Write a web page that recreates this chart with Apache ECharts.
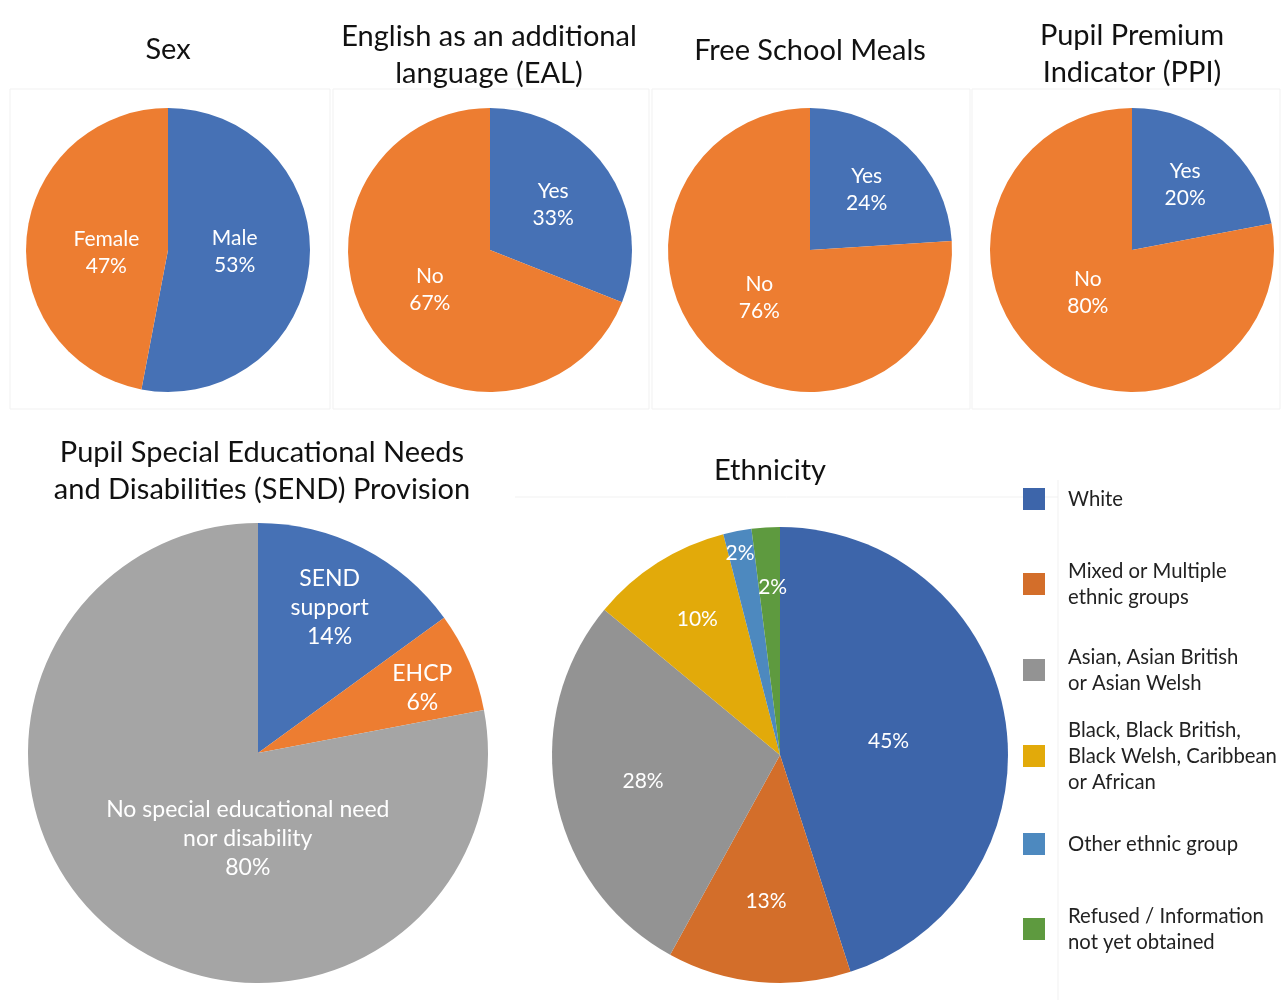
<!DOCTYPE html>
<html>
<head>
<meta charset="utf-8">
<script src="https://cdn.jsdelivr.net/npm/echarts@6/dist/echarts.min.js"></script>
<style>
  html, body { margin: 0; padding: 0; background: #fff; }
  #main { width: 1282px; height: 1002px; }
</style>
</head>
<body>
<div id="main"></div>
<script>
// slice sizes as drawn in the picture, printed percentages as written on it
var sexNames = ['Male', 'Female'];
var sexValues = [53, 47];
var sexPrinted = ['53%', '47%'];

var ealNames = ['Yes', 'No'];
var ealValues = [31, 69];
var ealPrinted = ['33%', '67%'];

var fsmNames = ['Yes', 'No'];
var fsmValues = [24, 76];
var fsmPrinted = ['24%', '76%'];

var ppiNames = ['Yes', 'No'];
var ppiValues = [22, 78];
var ppiPrinted = ['20%', '80%'];

var sendNames = ['SEND\nsupport', 'EHCP', 'No special educational need\nnor disability'];
var sendValues = [15, 7, 78];
var sendPrinted = ['14%', '6%', '80%'];

var ethNames = [
  'White',
  'Mixed or Multiple ethnic groups',
  'Asian, Asian British or Asian Welsh',
  'Black, Black British, Black Welsh, Caribbean or African',
  'Other ethnic group',
  'Refused / Information not yet obtained'
];
var ethLegendText = [
  'White',
  'Mixed or Multiple\nethnic groups',
  'Asian, Asian British\nor Asian Welsh',
  'Black, Black British,\nBlack Welsh, Caribbean\nor African',
  'Other ethnic group',
  'Refused / Information\nnot yet obtained'
];
var ethValues = [45, 13, 28, 10, 2, 2];
var ethPrinted = ['45%', '13%', '28%', '10%', '2%', '2%'];

var FONT = 'Lato, "Open Sans", sans-serif';
var BLUE = '#4671b5', ORANGE = '#ed7d31', GREY = '#a5a5a5';
var ethColors = ['#3d65aa', '#d36e2a', '#939393', '#e2aa0a', '#4d89bf', '#5e9a3f'];

function pieData(names, values, printed, colors, nudge) {
  return names.map(function (n, i) {
    var d = { name: n, value: values[i], printed: printed[i], itemStyle: { color: colors[i] } };
    if (nudge && nudge[i]) d.label = { offset: nudge[i] };
    return d;
  });
}

function withName(p) { return p.name + '\n' + p.data.printed; }

function smallPie(name, cx, names, values, printed, nudge) {
  return {
    name: name,
    type: 'pie',
    center: [cx, 250],
    radius: 142,
    startAngle: 90,
    clockwise: true,
    silent: true,
    itemStyle: { borderWidth: 0 },
    label: {
      position: 'inside',
      color: '#fff',
      fontFamily: FONT,
      fontSize: 21,
      lineHeight: 27,
      formatter: withName
    },
    labelLine: { show: false },
    data: pieData(names, values, printed, [BLUE, ORANGE], nudge)
  };
}

var titles = [
  { text: 'Sex', x: 168, y: 50 },
  { text: 'English as an additional\nlanguage (EAL)', x: 489, y: 55 },
  { text: 'Free School Meals', x: 810, y: 51 },
  { text: 'Pupil Premium\nIndicator (PPI)', x: 1132, y: 54 },
  { text: 'Pupil Special Educational Needs\nand Disabilities (SEND) Provision', x: 262, y: 471 },
  { text: 'Ethnicity', x: 770, y: 471 }
];

// faint panel frames like in the original
var frames = [
  [10, 89, 320, 320], [333, 89, 316, 320], [652, 89, 318, 320], [972, 89, 308, 320]
];

var graphics = frames.map(function (f) {
  return {
    type: 'rect', silent: true, z: -1,
    shape: { x: f[0], y: f[1], width: f[2], height: f[3] },
    style: { fill: 'none', stroke: '#f1f1f1', lineWidth: 1 }
  };
});
graphics.push({ type: 'line', silent: true, shape: { x1: 515, y1: 497, x2: 1058, y2: 497 }, style: { stroke: '#f1f1f1' } });
graphics.push({ type: 'line', silent: true, shape: { x1: 1058, y1: 480, x2: 1058, y2: 1000 }, style: { stroke: '#f1f1f1' } });
titles.forEach(function (t) {
  graphics.push({
    type: 'text', silent: true,
    x: t.x, y: t.y,
    style: {
      text: t.text, fill: '#111', font: '29px ' + FONT,
      align: 'center', verticalAlign: 'middle', lineHeight: 37
    }
  });
});

// one legend per row so the rows sit evenly like the original
var legendCenters = [499, 584, 670, 756, 844, 929];
var legends = ethNames.map(function (n, i) {
  var lines = ethLegendText[i].split('\n').length;
  return {
    orient: 'vertical',
    left: 1023,
    top: legendCenters[i] - lines * 13,
    padding: 0,
    itemWidth: 22,
    itemHeight: 22,
    selectedMode: false,
    icon: 'rect',
    data: [n],
    formatter: function () { return ethLegendText[i]; },
    textStyle: {
      fontFamily: FONT, fontSize: 20.3, color: '#222', lineHeight: 26,
      padding: [0, 0, 0, 18]
    }
  };
});

var option = {
  animation: false,
  backgroundColor: '#fff',
  graphic: graphics,
  legend: legends,
  series: [
    smallPie('Sex', 168, sexNames, sexValues, sexPrinted, [[-7, -5], [12, 10]]),
    smallPie('EAL', 490, ealNames, ealValues, ealPrinted, [[2, -4], [1, -2]]),
    smallPie('FSM', 810, fsmNames, fsmValues, fsmPrinted, [[6, -6], [0, -6]]),
    smallPie('PPI', 1132, ppiNames, ppiValues, ppiPrinted, [[6, -8], [3, -14]]),
    {
      name: 'SEND',
      type: 'pie',
      center: [258, 753],
      radius: 230,
      silent: true,
      itemStyle: { borderWidth: 0 },
      label: {
        position: 'inside',
        color: '#fff',
        fontFamily: FONT,
        fontSize: 23,
        lineHeight: 29,
        formatter: withName
      },
      labelLine: { show: false },
      data: pieData(sendNames, sendValues, sendPrinted, [BLUE, ORANGE, GREY], [[18, -40], [56, -18], [65, -5]])
    },
    {
      name: 'Ethnicity',
      type: 'pie',
      center: [780, 755],
      radius: 228,
      silent: true,
      itemStyle: { borderWidth: 0 },
      label: {
        position: 'inside',
        color: '#fff',
        fontFamily: FONT,
        fontSize: 21,
        formatter: function (p) { return p.data.printed; }
      },
      labelLine: { show: false },
      data: pieData(ethNames, ethValues, ethPrinted, ethColors, [[-7, 5], [-3, 30], [-22, 4], [-20, -37], [-18, -87], [0, -51]])
    }
  ]
};

var chart = echarts.init(document.getElementById('main'));
chart.setOption(option);
</script>
</body>
</html>
